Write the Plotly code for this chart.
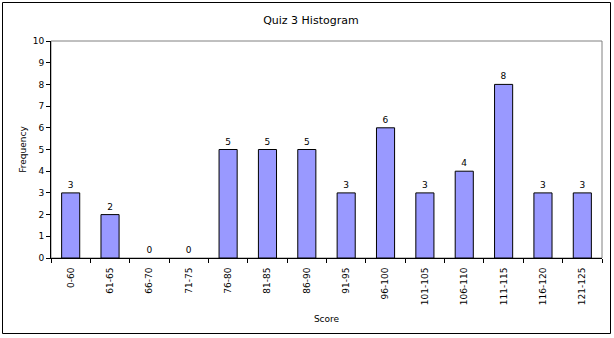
import plotly.graph_objects as go

categories = ["0-60", "61-65", "66-70", "71-75", "76-80", "81-85", "86-90", "91-95",
              "96-100", "101-105", "106-110", "111-115", "116-120", "121-125"]
frequency = [3, 2, 0, 0, 5, 5, 5, 3, 6, 3, 4, 8, 3, 3]

FONT = "DejaVu Sans"

fig = go.Figure(go.Bar(
    x=categories, y=frequency,
    marker=dict(color="#9999FF",
                line=dict(color="black", width=[1 if v > 0 else 0 for v in frequency])),
    text=[str(v) for v in frequency], textposition="outside",
    textfont=dict(family=FONT, size=9, color="black"),
    cliponaxis=False, width=0.46,
))

L, R, T, B = 51, 12, 41, 80
W, H = 614, 338
pw, ph = W - L - R, H - T - B

def px(xpix):
    return (xpix - L) / pw

def py(ypix):
    return (H - B - ypix) / ph

fig.update_layout(
    width=W, height=H,
    margin=dict(l=L, r=R, t=T, b=B),
    paper_bgcolor="white", plot_bgcolor="white",
    font=dict(family=FONT, size=9, color="black"),
    showlegend=False,
    title=dict(text="Quiz 3 Histogram", x=px(330), xanchor="center",
               y=1 - 20 / H, yanchor="middle",
               font=dict(family=FONT, size=11, color="black")),
    xaxis=dict(
        tickangle=-90, showline=True, linecolor="black", linewidth=1,
        ticks="outside", ticklen=4, tickcolor="black", tickson="boundaries",
        ticklabelstandoff=5,
        showgrid=False,
        title=dict(text="Score", font=dict(family=FONT, size=9), standoff=11),
        tickfont=dict(family=FONT, size=9),
    ),
    yaxis=dict(
        range=[0, 10], dtick=1, showline=True, linecolor="black", linewidth=1,
        ticks="outside", ticklen=4, tickcolor="black", showgrid=False,
        zeroline=False,
        title=dict(text="Frequency", font=dict(family=FONT, size=9), standoff=4),
        tickfont=dict(family=FONT, size=9),
    ),
    shapes=[
        dict(type="rect", xref="paper", yref="paper", x0=0, x1=1, y0=0, y1=1,
             line=dict(color="#808080", width=1), layer="below"),
        dict(type="rect", xref="paper", yref="paper",
             x0=px(2.5), x1=px(610.5), y0=py(333.5), y1=py(2.5),
             line=dict(color="black", width=1), layer="below"),
    ],
)

fig.write_html("out.html")
